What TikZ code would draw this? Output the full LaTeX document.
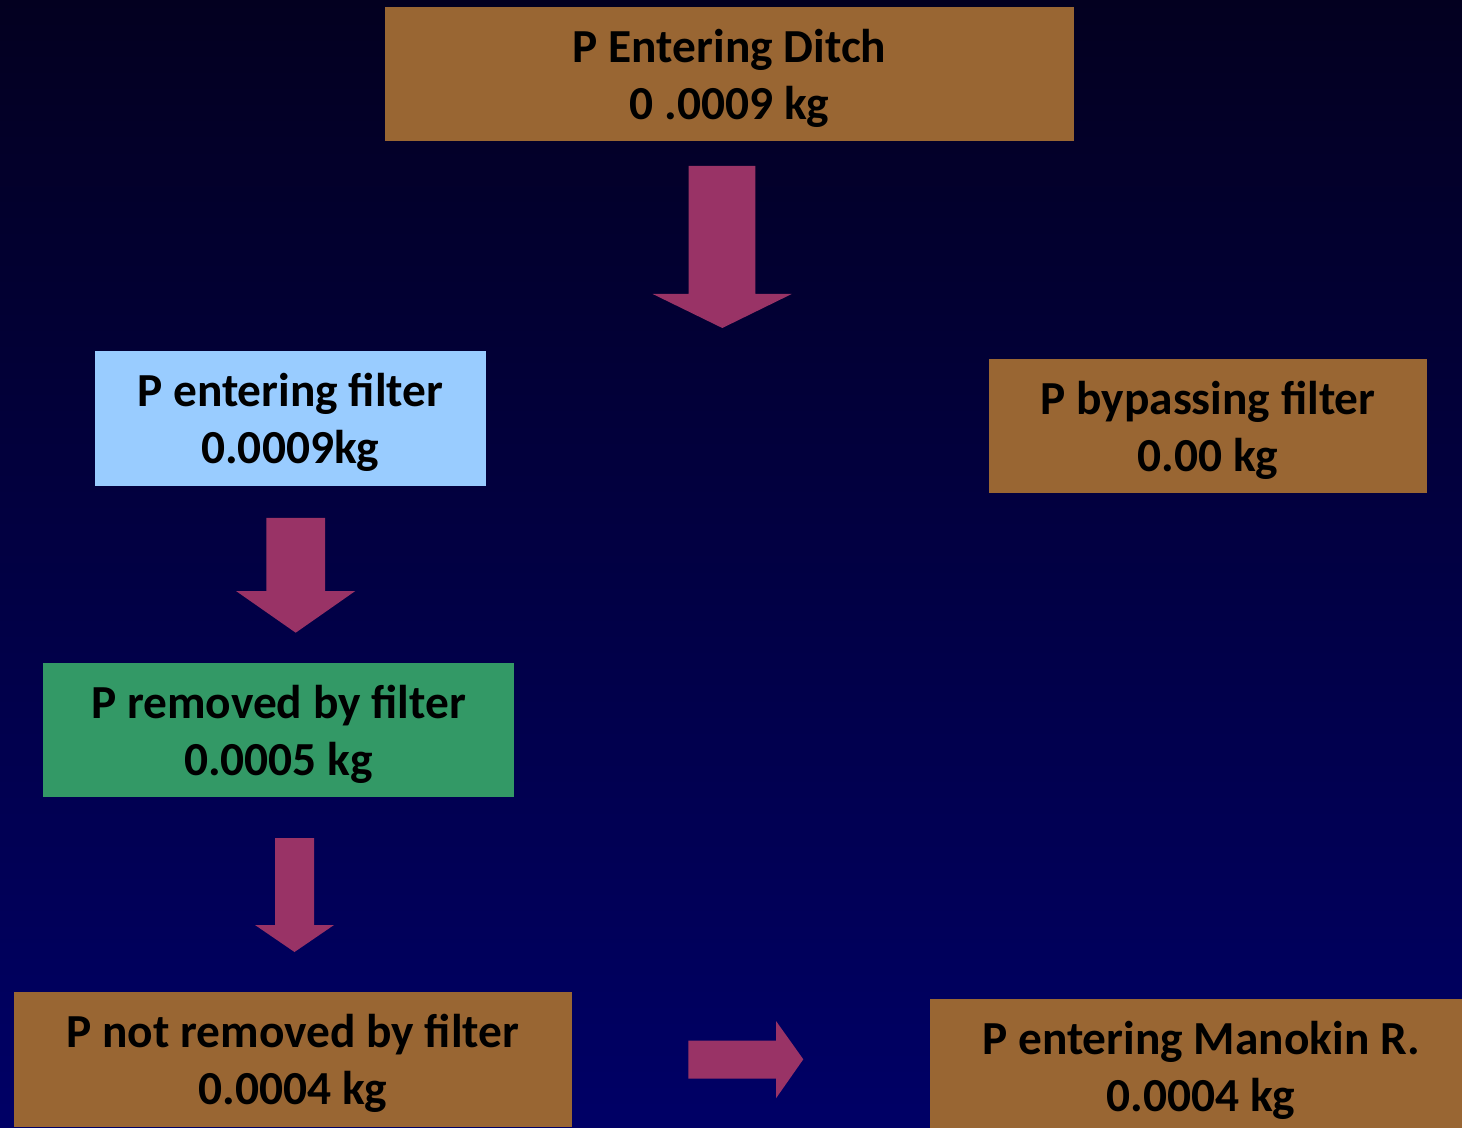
\documentclass[tikz,border=0pt]{standalone}
\usepackage{fontspec}
\setmainfont{Carlito}
\definecolor{brownbox}{HTML}{996633}
\definecolor{bluebox}{HTML}{99CCFF}
\definecolor{greenbox}{HTML}{339966}
\definecolor{arrowcol}{HTML}{993366}
\definecolor{bgtop}{RGB}{3,0,32}
\definecolor{bgbot}{RGB}{0,0,102}
\newcommand{\boxfont}{\fontsize{23.7}{28.5}\selectfont\bfseries}
\tikzset{
  box/.style={rectangle, inner sep=0pt},
  boxtext/.style={inner sep=0pt, font=\boxfont, align=center, text=black},
  blockarrow/.style={fill=arrowcol, draw=none}
}
\begin{document}
\begin{tikzpicture}[x=0.5pt, y=-0.5pt]
\useasboundingbox (0,0) rectangle (1462,1128);
\clip (0,0) rectangle (1462,1128);
\shade[top color=bgtop, bottom color=bgbot] (0,0) rectangle (1462,1128);

% boxes
\node[box, fill=brownbox, minimum width=344.5pt, minimum height=67pt] (ditch) at (729.5,74) {};
\node[box, fill=bluebox, minimum width=195.5pt, minimum height=67.5pt] (enter) at (290.3,418.3) {};
\node[box, fill=brownbox, minimum width=219pt, minimum height=67pt] (bypass) at (1208,426) {};
\node[box, fill=greenbox, minimum width=235.5pt, minimum height=67pt] (removed) at (278.5,730) {};
\node[box, fill=brownbox, minimum width=279pt, minimum height=67.5pt] (notrem) at (293,1059.5) {};
\node[box, fill=brownbox, minimum width=271pt, minimum height=67pt] (manokin) at (1201,1066) {};

% texts
\node[boxtext] (ditch-t) at ([yshift=-2pt]ditch.center) {P Entering Ditch\\0 .0009 kg};
\node[boxtext] (enter-t) at ([yshift=-2pt]enter.center) {P entering filter\\0.0009kg};
\node[boxtext] (bypass-t) at ([yshift=-2pt]bypass.center) {P bypassing filter\\0.00 kg};
\node[boxtext] (removed-t) at ([yshift=-2pt]removed.center) {P removed by filter\\0.0005 kg};
\node[boxtext] (notrem-t) at ([yshift=-2pt]notrem.center) {P not removed by filter\\0.0004 kg};
\node[boxtext] (manokin-t) at ([yshift=-2pt]manokin.center) {P entering Manokin R.\\0.0004 kg};

% block arrows
\fill[blockarrow] (688.7,166) -- (755.3,166) -- (755.3,294) -- (791.7,294) -- (722.3,328) -- (652.7,294) -- (688.7,294) -- cycle;
\fill[blockarrow] (266.3,518) -- (325,518) -- (325,591) -- (355.3,591) -- (295.7,632.7) -- (236,591) -- (266.3,591) -- cycle;
\fill[blockarrow] (275,838) -- (314,838) -- (314,925) -- (334,925) -- (294.5,952) -- (255,925) -- (275,925) -- cycle;
\fill[blockarrow] (688.3,1040.7) -- (776,1040.7) -- (776,1021) -- (803.3,1059.3) -- (776,1098.3) -- (776,1078.7) -- (688.3,1078.7) -- cycle;
\end{tikzpicture}
\end{document}
